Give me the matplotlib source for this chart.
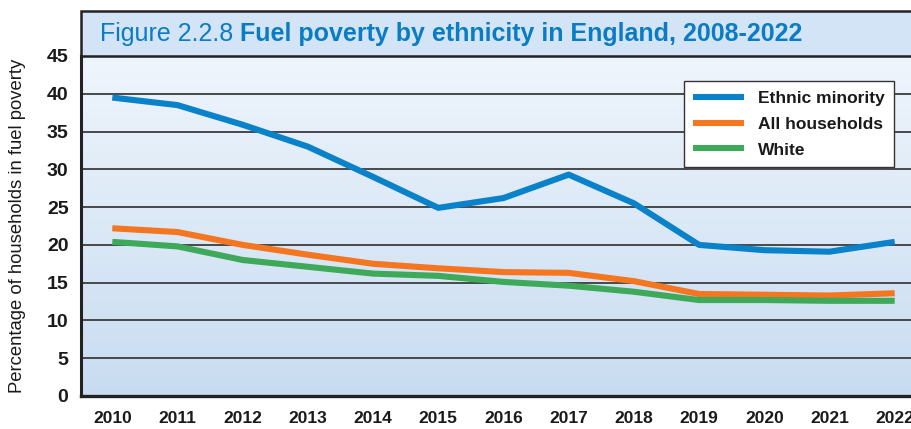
import matplotlib
matplotlib.use("Agg")
import matplotlib.pyplot as plt
import numpy as np
from matplotlib.colors import LinearSegmentedColormap
from matplotlib.patches import Rectangle
from matplotlib import font_manager

years = [2010, 2011, 2012, 2013, 2014, 2015, 2016, 2017, 2018, 2019, 2020, 2021, 2022]
ethnic_minority = [39.5, 38.5, 35.9, 33.0, 29.0, 24.9, 26.2, 29.3, 25.5, 20.0, 19.3, 19.1, 20.4]
all_households = [22.2, 21.7, 20.0, 18.7, 17.5, 16.9, 16.4, 16.3, 15.2, 13.5, 13.4, 13.3, 13.6]
white = [20.4, 19.8, 18.0, 17.1, 16.2, 15.9, 15.1, 14.6, 13.8, 12.7, 12.7, 12.6, 12.6]
series_labels = ["Ethnic minority", "All households", "White"]
y_ticks = [0, 5, 10, 15, 20, 25, 30, 35, 40, 45]
title_prefix = "Figure 2.2.8 "
title_main = "Fuel poverty by ethnicity in England, 2008-2022"
y_label = "Percentage of households in fuel poverty"

names = {f.name for f in font_manager.fontManager.ttflist}
narrow = "Liberation Sans Narrow" if "Liberation Sans Narrow" in names else "Liberation Sans"
plt.rcParams["font.family"] = [narrow, "DejaVu Sans"]

fig = plt.figure(figsize=(9.11, 4.29), dpi=100)
W, H = 911, 429
left, bottom_px, top_px = 81, 396, 56
ax = fig.add_axes([left / W, (H - bottom_px) / H, (W - left) / W, (bottom_px - top_px) / H])

# gradient background
cmap = LinearSegmentedColormap.from_list("bg", ["#c8dcf1", "#eff5fc"])
grad = np.linspace(0, 1, 256).reshape(-1, 1)
ax.imshow(grad, aspect="auto", cmap=cmap, origin="lower",
          extent=[2009.52, 2022.25, 0, 45], zorder=0)

ax.set_xlim(2009.52, 2022.25)
ax.set_ylim(0, 45)
for yv in y_ticks[1:]:
    ax.axhline(yv, color="#3c3c3c", lw=1.3, zorder=1)

colors = ["#0a82c9", "#f47621", "#3fa95a"]
for vals, c, lab in zip([ethnic_minority, all_households, white], colors, series_labels):
    ax.plot(years, vals, color=c, lw=4.4, label=lab, zorder=3, solid_capstyle="butt")

ax.set_yticks(y_ticks)
ax.set_yticklabels([str(v) for v in y_ticks], fontsize=14, fontweight="bold", color="#1a1a1a")
ax.set_xticks(years)
ax.set_xticklabels([str(y) for y in years], fontsize=12.5, fontweight="bold", color="#1a1a1a")
ax.tick_params(axis="y", length=0, pad=9)
ax.tick_params(axis="x", length=0, pad=11)

ax.spines["right"].set_visible(False)
ax.spines["left"].set_linewidth(2.2)
ax.spines["bottom"].set_linewidth(2.4)
ax.spines["top"].set_linewidth(1.5)
for s in ["left", "bottom", "top"]:
    ax.spines[s].set_color("#222222")

ax.set_ylabel(y_label, fontsize=13.3, color="#1a1a1a")
ax.yaxis.set_label_coords(-0.066, 0.5)

leg = ax.legend(loc="upper right",
                bbox_to_anchor=((894 - left) / (W - left), (bottom_px - 81) / (bottom_px - top_px)),
                frameon=True, fancybox=False, fontsize=12.5, handlelength=2.9, borderpad=0.55,
                labelspacing=0.62, handletextpad=0.8, borderaxespad=0)
leg.get_frame().set_edgecolor("#333333")
leg.get_frame().set_linewidth(1.0)
leg.get_frame().set_facecolor("white")
leg.get_frame().set_alpha(1)
for t in leg.get_texts():
    t.set_fontweight("bold")
    t.set_color("#1a1a1a")

# title box
rect = Rectangle((left / W, (H - top_px) / H), 1.0, (top_px - 11) / H, transform=fig.transFigure,
                 facecolor="#d3e4f6", edgecolor="#222222", lw=1.8, zorder=5)
fig.add_artist(rect)
t1 = fig.text(100 / W, (H - 34) / H, title_prefix, fontsize=18, color="#0a7cc4",
              va="center", ha="left", zorder=6)
fig.canvas.draw()
bb = t1.get_window_extent(renderer=fig.canvas.get_renderer())
x2 = bb.x1 / fig.bbox.width
fig.text(x2, (H - 34) / H, title_main, fontsize=18, color="#0a7cc4", fontweight="bold",
         va="center", ha="left", zorder=6)

fig.savefig("out.png", dpi=100)
